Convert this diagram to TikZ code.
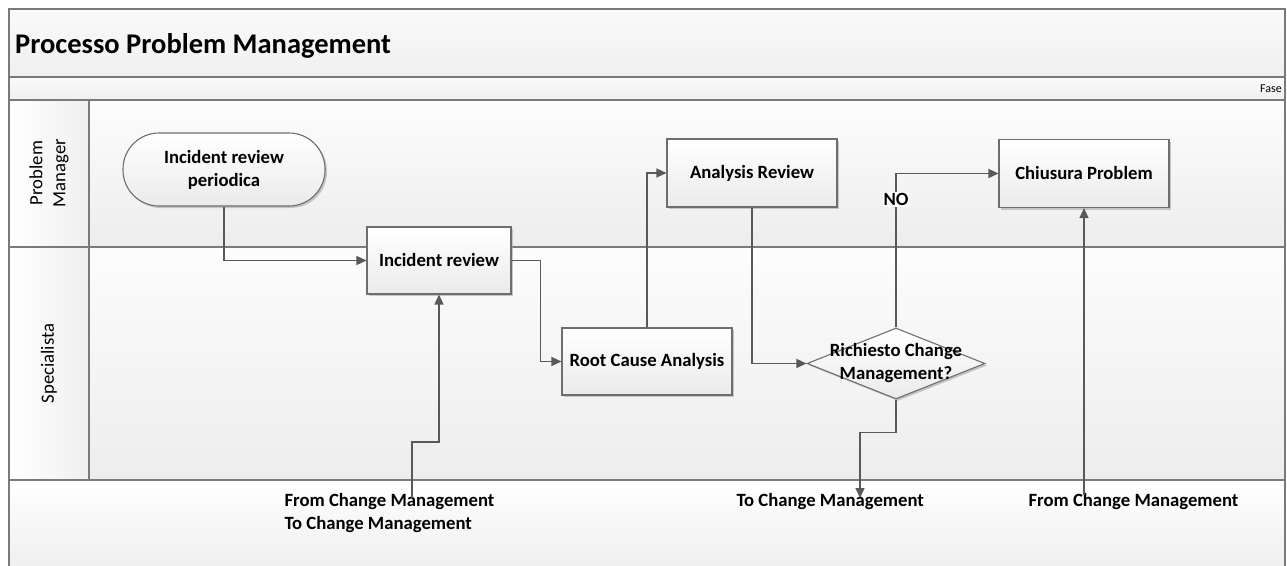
\documentclass[tikz,border=0pt]{standalone}
\usepackage{fontspec}
\setmainfont{Carlito}
\usetikzlibrary{arrows.meta,shapes.geometric,shadows,calc}

\definecolor{linegray}{HTML}{595959}
\definecolor{framegray}{HTML}{7A7A7A}
\definecolor{boxgray}{HTML}{6E6E6E}

\begin{document}
\begin{tikzpicture}[x=1pt,y=-1pt,
  txt/.style={font=\bfseries\fontsize{18.7}{23}\selectfont, align=center, text=black},
  shade/.style={shading=axis, top color=white, bottom color=black!8},
  shad/.style={drop shadow={shadow xshift=2pt, shadow yshift=-2pt, fill=black!35, opacity=0.6}},
  proc/.style={draw=boxgray, line width=1.1pt, shade, shad, minimum width=#1,
    minimum height=68pt, inner sep=0pt, txt},
  term/.style={proc=202pt, rounded corners=36pt, minimum height=73pt},
  dec/.style={diamond, draw=boxgray, line width=1.1pt, shade, shad, minimum width=178pt,
    minimum height=71pt, inner sep=0pt},
  conn/.style={draw=linegray, line width=1.4pt, -{Triangle[length=10pt,width=9pt]}},
  lane/.style={framegray, line width=1.2pt},
  lanelbl/.style={font=\fontsize{18.7}{23}\selectfont, rotate=90, align=center},
]
\useasboundingbox (0,0) rectangle (1287,565);

% band backgrounds
\fill[shading=axis, top color=black!2, bottom color=black!6] (9,9) rectangle (1285,77);
\fill[shading=axis, top color=black!2, bottom color=black!6] (9,77) rectangle (1285,100);
\fill[shading=axis, top color=black!1, bottom color=black!7] (89,100) rectangle (1285,247);
\fill[shading=axis, top color=black!1, bottom color=black!7] (89,247) rectangle (1285,480);
\fill[shading=axis, left color=white, right color=black!6] (9,100) rectangle (89,480);
\fill[shading=axis, top color=white, bottom color=black!6] (9,480) rectangle (1285,565);

% frame and lane separators
\draw[lane] (9,566) -- (9,9) -- (1285,9) -- (1285,566);
\draw[lane] (9,77) -- (1285,77);
\draw[lane] (9,100) -- (1285,100);
\draw[lane] (9,247) -- (1285,247);
\draw[lane] (9,480) -- (1285,480);
\draw[lane] (89,100) -- (89,480);

% headings
\node[font=\bfseries\fontsize{28.5}{33}\selectfont, anchor=base west, inner sep=0pt] (title) at (15,53) {Processo Problem Management};
\node[font=\fontsize{12}{14}\selectfont, anchor=east, inner sep=1pt] (fase) at (1283,88.5) {Fase};
\node[lanelbl] (pm) at (49,173) {Problem\\Manager};
\node[lanelbl] (sp) at (49,363.5) {Specialista};

% process steps
\node[term] (irp) at (224,169.5) {Incident review\\periodica};
\node[proc=144pt, minimum height=67pt] (ir) at (439,260.5) {Incident review};
\node[proc=170pt, minimum height=67pt] (rca) at (647,361.5) {Root Cause Analysis};
\node[proc=170pt] (ar) at (752,173) {Analysis Review};
\node[dec] (dc) at (896,363.5) {};
\node[txt] (dctxt) at (dc) {Richiesto Change\\Management?};
\node[proc=170pt] (cp) at (1084,173.5) {Chiusura Problem};

% off-page references
\node[txt, anchor=west, align=left] (lblA) at (281,513.5) {From Change Management\\To Change Management};
\node[txt, anchor=west] (lblB) at (733,502) {To Change Management};
\node[txt, anchor=west] (lblC) at (1025,502) {From Change Management};
\coordinate (fA) at (412,498);
\coordinate (tA) at (860,498);
\coordinate (fB) at (1084,495);

% connectors
\draw[conn] (irp.south) |- (ir.west);
\draw[conn] (ir.east) -- ++(29,0) |- (rca.west);
\draw[conn] (rca.north) |- (ar.west);
\draw[conn] (ar.south) |- (dc.west);
\draw[conn] (dc.north) |- node[pos=0.415, txt, fill=white, inner sep=1pt] {NO} (cp.west);
\draw[conn] (fA) -- ++(0,-56) -| (ir.south);
\draw[conn] (dc.south) -- ++(0,33) -| (tA);
\draw[conn] (fB) -- (cp.south);
\end{tikzpicture}
\end{document}
